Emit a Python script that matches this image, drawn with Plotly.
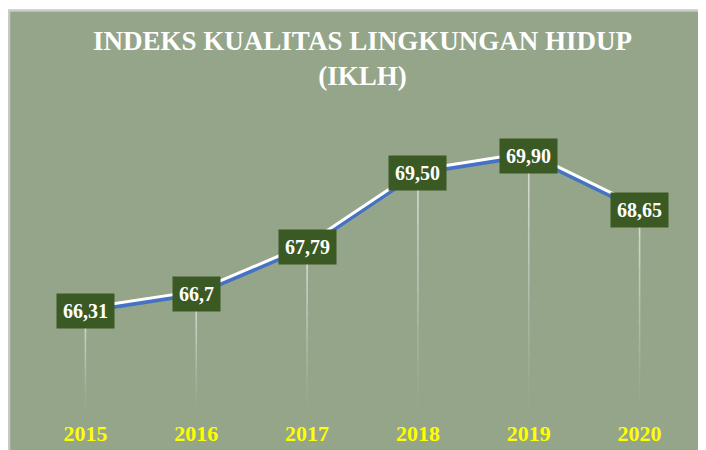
import plotly.graph_objects as go

years = ["2015", "2016", "2017", "2018", "2019", "2020"]
iklh = [66.31, 66.7, 67.79, 69.50, 69.90, 68.65]
labels = ["66,31", "66,7", "67,79", "69,50", "69,90", "68,65"]

Y_MIN, Y_MAX = 64, 71
W, H = 698, 442          # page body has an 8px margin
M_L, M_R, M_T, M_B = 22, 11, 100, 39
plot_h = H - M_T - M_B
plot_w = W - M_L - M_R
px_per_unit = plot_h / (Y_MAX - Y_MIN)

BG = "#94A58A"
BOX = "#3A5923"
SERIF = "Liberation Serif, Times New Roman, serif"

fig = go.Figure()

# fading drop lines from each point to the axis bottom
n_seg = 14
for k in range(n_seg):
    xs, ys = [], []
    for yr, v in zip(years, iklh):
        top = v - (v - Y_MIN) * k / n_seg
        bot = v - (v - Y_MIN) * (k + 1) / n_seg
        xs += [yr, yr, None]
        ys += [top, bot, None]
    alpha = 0.8 * (1 - k / n_seg) ** 1.2
    fig.add_trace(go.Scatter(x=xs, y=ys, mode="lines",
                             line=dict(color=f"rgba(235,235,235,{alpha:.3f})", width=1.6),
                             hoverinfo="skip", showlegend=False))

# blue line with white highlight above
fig.add_trace(go.Scatter(x=years, y=iklh, mode="lines",
                         line=dict(color="#4472C4", width=4.5),
                         hoverinfo="skip", showlegend=False))
off = 3.0 / px_per_unit
fig.add_trace(go.Scatter(x=years, y=[v + off for v in iklh], mode="lines",
                         line=dict(color="#FFFFFF", width=3),
                         hoverinfo="skip", showlegend=False))

for i, (v, t) in enumerate(zip(iklh, labels)):
    fig.add_annotation(x=i, y=v, xref="x", yref="y", text="<b>" + t + "</b>",
                       showarrow=False,
                       font=dict(family=SERIF, size=20, color="white"),
                       bgcolor=BOX, borderpad=6,
                       xanchor="center", yanchor="middle")

# green panel with grey top/left border
fig.add_shape(type="rect", xref="paper", yref="paper", layer="below",
              x0=(1 - M_L) / plot_w, x1=(W + 20 - M_L) / plot_w,
              y0=(H - M_B - (H + 20)) / plot_h, y1=(H - M_B - 2.5) / plot_h,
              fillcolor=BG, line=dict(color="#C9C9C9", width=2.5))

fig.update_layout(
    width=W, height=H,
    margin=dict(l=M_L, r=M_R, t=M_T, b=M_B, autoexpand=False),
    paper_bgcolor="white", plot_bgcolor="rgba(0,0,0,0)",
    title=dict(text="<b>INDEKS KUALITAS LINGKUNGAN HIDUP<br>(IKLH)</b>",
               x=0.5, xref="paper", xanchor="center",
               y=1 - 42 / H, yref="container", yanchor="top",
               font=dict(family=SERIF, size=27, color="white"),
               automargin=False),
    xaxis=dict(type="category", range=[-0.5, 5.5], showgrid=False, zeroline=False,
               showline=False, ticks="", ticklabelstandoff=7, automargin=False,
               tickfont=dict(family=SERIF, size=22, color="#FFFF00", weight="bold")),
    yaxis=dict(range=[Y_MIN, Y_MAX], visible=False, showgrid=False, zeroline=False,
               automargin=False),
    showlegend=False,
)

fig.write_html("out.html")
